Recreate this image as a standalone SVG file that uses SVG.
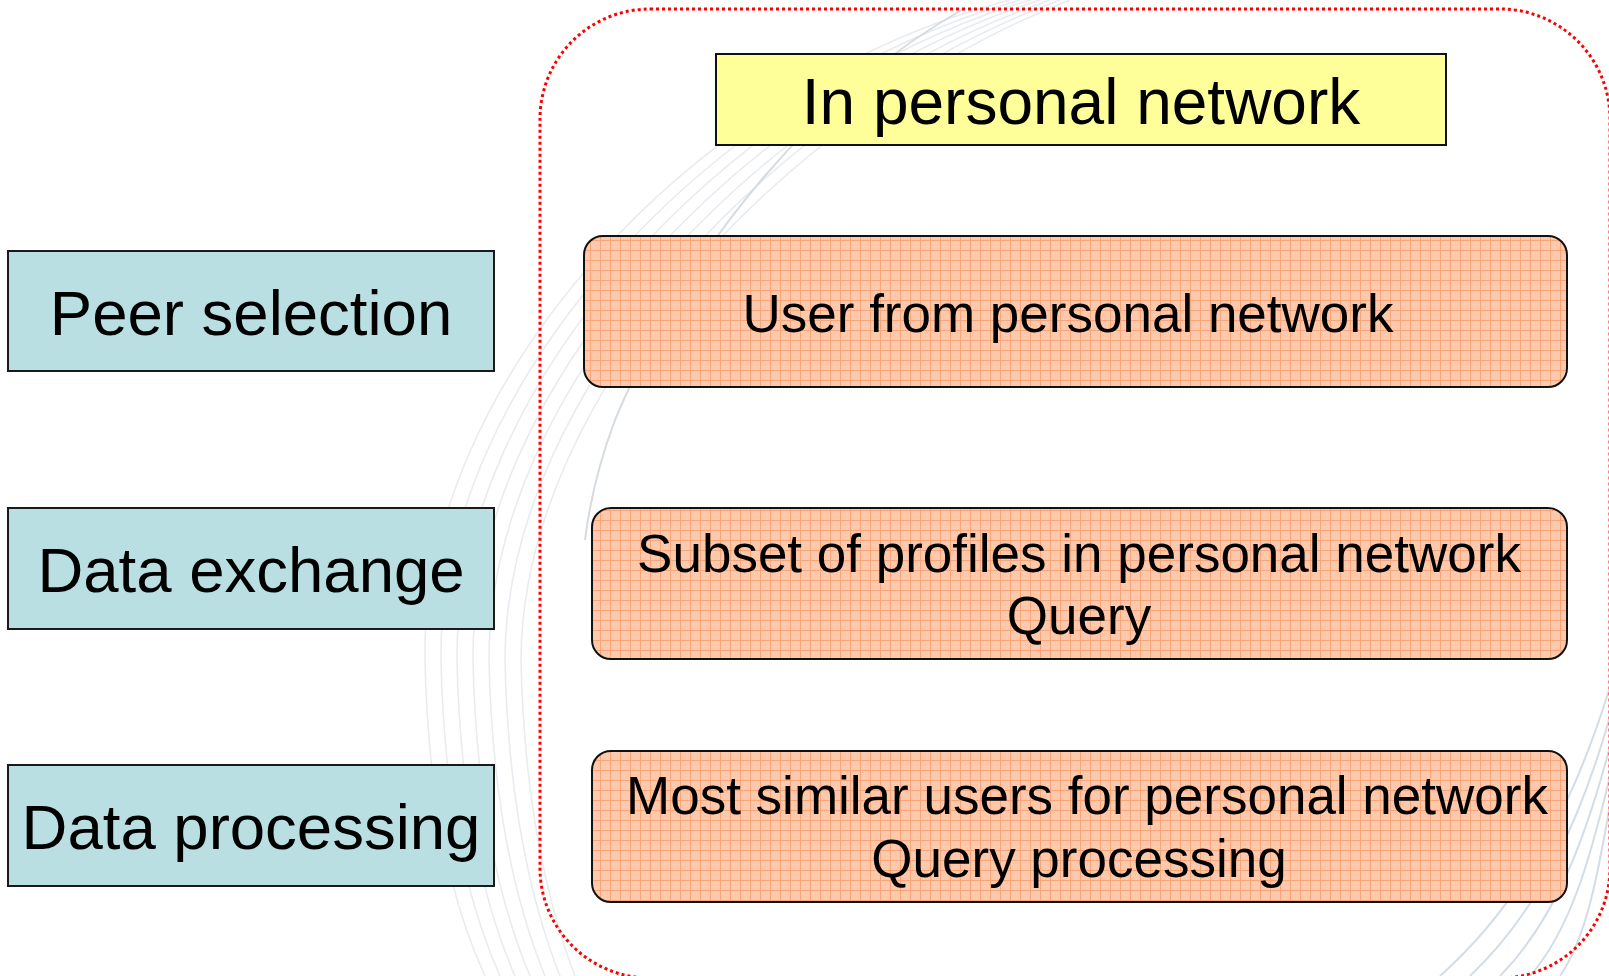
<svg xmlns="http://www.w3.org/2000/svg" width="1609" height="976" viewBox="0 0 1609 976">
<style>
.bg{fill:none;stroke:#e8ecf1;stroke-width:1.6}
.bg2{fill:none;stroke:#d3dde7;stroke-width:2}
.step{fill:#b9dfe2;stroke:#1a1a1a;stroke-width:2}
.stepText{font-family:"Liberation Sans",Arial,sans-serif;font-size:63.5px;fill:#000;text-anchor:middle}
.item{fill:url(#grid);stroke:#111;stroke-width:2}
.itemText{font-family:"Liberation Sans",Arial,sans-serif;font-size:53px;fill:#000;text-anchor:middle}
.title{fill:#ffff99;stroke:#111;stroke-width:2}
.titleText{font-family:"Liberation Sans",Arial,sans-serif;font-size:64px;fill:#000;text-anchor:middle}
.frame{fill:none;stroke:#ff0000;stroke-width:3;stroke-dasharray:3 3}
</style>
<defs>
<pattern id="grid" width="10" height="10" patternUnits="userSpaceOnUse">
<rect width="10" height="10" fill="#fdc9ad"/>
<path d="M0 0.5H10M0.5 0V10" stroke="#f9a57a" stroke-width="1"/>
</pattern>
</defs>
<rect width="1609" height="976" fill="#ffffff"/>
<g id="background">
<path class="bg" d="M1010 0 C700 80 420 380 425 660 C428 800 450 900 485 976"/>
<path class="bg" d="M1020 0 C715 85 437 382 441 660 C444 800 466 900 500 976"/>
<path class="bg" d="M1030 0 C730 90 454 384 457 660 C460 800 482 900 515 976"/>
<path class="bg" d="M1040 0 C745 95 471 386 473 660 C476 800 498 900 530 976"/>
<path class="bg" d="M1050 0 C760 100 488 388 489 660 C492 800 514 900 545 976"/>
<path class="bg" d="M1060 0 C775 105 505 390 505 660 C508 800 530 900 560 976"/>
<path class="bg" d="M1070 0 C790 110 522 392 521 660 C524 800 546 900 575 976"/>
<path fill="none" stroke="#d6dbe0" stroke-width="2" d="M965 8 C820 90 690 240 615 420 C600 460 590 500 585 540"/>
<path class="bg2" d="M1609 690 C1575 800 1525 900 1440 976"/>
<path class="bg2" d="M1609 720 C1580 820 1540 910 1470 976"/>
<path class="bg2" d="M1609 750 C1585 840 1555 920 1500 976"/>
<path class="bg2" d="M1609 780 C1590 860 1570 930 1530 976"/>
<path class="bg2" d="M1609 810 C1597 880 1585 940 1560 976"/>
</g>
<g id="container">
<rect class="frame" x="540" y="9" width="1070" height="969" rx="110" ry="110"/>
</g>
<g id="title">
<rect class="title" x="716" y="54" width="730" height="91"/>
<text class="titleText" x="1081" y="124">In personal network</text>
</g>
<g id="peer-selection">
<rect class="step" x="8" y="251" width="486" height="120"/>
<text class="stepText" x="251" y="335">Peer selection</text>
</g>
<g id="data-exchange">
<rect class="step" x="8" y="508" width="486" height="121"/>
<text class="stepText" x="251" y="592">Data exchange</text>
</g>
<g id="data-processing">
<rect class="step" x="8" y="765" width="486" height="121"/>
<text class="stepText" x="251" y="849">Data processing</text>
</g>
<g id="user-from-network">
<rect class="item" x="584" y="236" width="983" height="151" rx="19" ry="19"/>
<text class="itemText" x="1068" y="332">User from personal network</text>
</g>
<g id="subset-profiles">
<rect class="item" x="592" y="508" width="975" height="151" rx="19" ry="19"/>
<text class="itemText" x="1079" y="572">Subset of profiles in personal network</text>
<text class="itemText" x="1079" y="634">Query</text>
</g>
<g id="most-similar">
<rect class="item" x="592" y="751" width="975" height="151" rx="19" ry="19"/>
<text class="itemText" x="1087" y="814">Most similar users for personal network</text>
<text class="itemText" x="1079" y="877">Query processing</text>
</g>
<g id="connectors"></g>
</svg>
